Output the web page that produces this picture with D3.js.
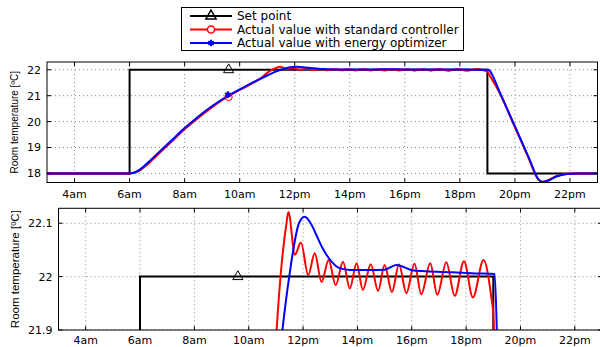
<!DOCTYPE html>
<html>
<head>
<meta charset="utf-8">
<script src="https://cdn.jsdelivr.net/npm/d3@7"></script>
<style>
    body { margin: 0; background: #fff; }
    svg { display: block; }
    text { font-family: "DejaVu Sans", sans-serif; fill: #000; }
    text.ylab { font-family: "Liberation Sans", Arial, sans-serif; }
</style>
</head>
<body>
<div id="chart"></div>
<script>
// set point (step after each hour)
var setHours = [3, 6, 19, 23];
var setTemps = [18, 22, 18, 18];

// actual value with standard controller
var stdHours = [3, 6, 6.3, 6.6, 7, 7.5, 8, 8.5, 9, 9.5, 10, 10.5, 10.8, 11, 11.17, 11.39, 11.46, 11.7, 11.92, 12.19,
    12.43, 12.68, 12.94, 13.2, 13.47, 13.72, 13.97, 14.2, 14.49, 14.76, 15, 15.27, 15.53, 15.8, 16.1, 16.35, 16.68,
    16.94, 17.27, 17.58, 17.92, 18.25, 18.64, 18.93, 19, 19.1, 19.4, 20, 20.5, 20.85, 21, 21.2, 21.5, 21.9, 22.3, 23];
var stdTemps = [18, 18, 18.07, 18.3, 18.7, 19.2, 19.7, 20.15, 20.56, 20.92, 21.22, 21.5, 21.7, 21.88, 22.0, 22.1, 22.121, 22.041, 22.064, 22.003,
    22.044, 21.99, 22.031, 21.984, 22.028, 21.978, 22.025, 21.975, 22.023, 21.973, 22.022, 21.971, 22.023, 21.969, 22.024, 21.967, 22.025,
    21.966, 22.027, 21.964, 22.029, 21.961, 22.031, 21.96, 21.93, 21.75, 21.2, 19.78, 18.58, 17.76, 17.68, 17.74, 17.89, 17.99, 18.0, 18.0];

// actual value with energy optimizer
var optHours = [3, 6, 6.3, 6.6, 7, 7.5, 8, 8.5, 9, 9.5, 10, 10.5, 11, 11.24, 11.49, 11.85, 12.06, 12.3, 12.49, 12.7,
    12.86, 13.05, 13.23, 13.5, 13.72, 14.45, 15, 15.2, 15.43, 15.6, 15.8, 16, 16.5, 17.5, 18.31, 19.05, 19.15, 19.4,
    20, 20.5, 20.85, 21, 21.2, 21.5, 21.9, 22.3, 23];
var optTemps = [18, 18, 18.1, 18.35, 18.75, 19.25, 19.75, 20.2, 20.6, 20.95, 21.24, 21.52, 21.78, 21.9, 22.0, 22.1, 22.112, 22.098, 22.078, 22.055,
    22.041, 22.028, 22.019, 22.014, 22.0125, 22.0125, 22.013, 22.017, 22.022, 22.02, 22.016, 22.012, 22.01, 22.008, 22.006, 22.005, 21.86, 21.25,
    19.82, 18.62, 17.78, 17.67, 17.72, 17.88, 17.98, 18.0, 18.0];

// one marker per series
var markerHours = [9.6, 9.6, 9.57];
var markerTemps = [22, 20.95, 21.04];

var xTickHours = [4, 6, 8, 10, 12, 14, 16, 18, 20, 22];
var xTickLabels = ["4am", "6am", "8am", "10am", "12pm", "14pm", "16pm", "18pm", "20pm", "22pm"];
var topYTicks = [18, 19, 20, 21, 22];
var bottomYTicks = [21.9, 22, 22.1];
var bottomYLabels = ["21.9", "22", "22.1"];
var legendLabels = ["Set point", "Actual value with standard controller", "Actual value with energy optimizer"];
var seriesColors = ["#000", "#f00", "#00f"];

(function () {
    var width = 600, height = 347;

    var svg = d3.select("#chart")
        .append("svg")
        .attr("width", width)
        .attr("height", height);

    var setData = setHours.map((h, i) => [h, setTemps[i]]);
    var stdData = stdHours.map((h, i) => [h, stdTemps[i]]);
    var optData = optHours.map((h, i) => [h, optTemps[i]]);

    function drawPanel(p) {
        var x = d3.scaleLinear().domain([3, 23]).range([p.left, p.right]);
        var y = d3.scaleLinear().domain(p.yDomain).range([p.bottom, p.top]);

        var g = svg.append("g");

        g.append("clipPath")
            .attr("id", p.id)
            .append("rect")
            .attr("x", p.left)
            .attr("y", p.top)
            .attr("width", p.right - p.left)
            .attr("height", p.bottom - p.top);

        // dotted grid
        g.append("g")
            .selectAll("line")
            .data(xTickHours)
            .join("line")
            .attr("x1", d => x(d)).attr("x2", d => x(d))
            .attr("y1", p.top).attr("y2", p.bottom)
            .attr("stroke", "#555")
            .attr("stroke-width", 0.7)
            .attr("stroke-dasharray", "1,3");

        g.append("g")
            .selectAll("line")
            .data(p.yTicks)
            .join("line")
            .attr("x1", p.left).attr("x2", p.right)
            .attr("y1", d => y(d)).attr("y2", d => y(d))
            .attr("stroke", "#555")
            .attr("stroke-width", 0.7)
            .attr("stroke-dasharray", "1,3");

        // series
        var lines = g.append("g").attr("clip-path", "url(#" + p.id + ")");

        lines.append("path")
            .datum(setData)
            .attr("fill", "none")
            .attr("stroke", seriesColors[0])
            .attr("stroke-width", 2)
            .attr("d", d3.line().x(d => x(d[0])).y(d => y(d[1])).curve(d3.curveStepAfter));

        var smooth = d3.line().x(d => x(d[0])).y(d => y(d[1])).curve(d3.curveMonotoneX);

        lines.append("path")
            .datum(stdData)
            .attr("fill", "none")
            .attr("stroke", seriesColors[1])
            .attr("stroke-width", 2)
            .attr("d", smooth);

        lines.append("path")
            .datum(optData)
            .attr("fill", "none")
            .attr("stroke", seriesColors[2])
            .attr("stroke-width", 2)
            .attr("d", smooth);

        // markers
        lines.selectAll(".mk")
            .data(markerHours)
            .join("path")
            .attr("class", "mk")
            .attr("transform", (d, i) => "translate(" + x(d) + "," + y(markerTemps[i]) + ")")
            .attr("d", (d, i) => markerPath(i))
            .attr("fill", "none")
            .attr("stroke", (d, i) => seriesColors[i])
            .attr("stroke-width", (d, i) => i == 2 ? 2 : 1);

        // frame
        g.append("rect")
            .attr("x", p.left)
            .attr("y", p.top)
            .attr("width", p.right - p.left)
            .attr("height", p.bottom - p.top)
            .attr("fill", "none")
            .attr("stroke", "#000")
            .attr("stroke-width", 1);

        // inward ticks on all sides
        var tl = 4;
        g.append("g")
            .selectAll("line")
            .data(xTickHours.flatMap(d => [[d, p.bottom, -tl], [d, p.top, tl]]))
            .join("line")
            .attr("x1", d => x(d[0])).attr("x2", d => x(d[0]))
            .attr("y1", d => d[1]).attr("y2", d => d[1] + d[2])
            .attr("stroke", "#000");

        g.append("g")
            .selectAll("line")
            .data(p.yTicks.flatMap(d => [[d, p.left, tl], [d, p.right, -tl]]))
            .join("line")
            .attr("y1", d => y(d[0])).attr("y2", d => y(d[0]))
            .attr("x1", d => d[1]).attr("x2", d => d[1] + d[2])
            .attr("stroke", "#000");

        // tick labels
        g.append("g")
            .selectAll("text")
            .data(xTickHours)
            .join("text")
            .attr("x", d => x(d))
            .attr("y", p.bottom + p.xLabelDy)
            .attr("text-anchor", "middle")
            .attr("font-size", p.tickSize)
            .text((d, i) => xTickLabels[i]);

        g.append("g")
            .selectAll("text")
            .data(p.yTicks)
            .join("text")
            .attr("x", p.left - 6)
            .attr("y", d => y(d))
            .attr("dy", "0.36em")
            .attr("text-anchor", "end")
            .attr("font-size", p.tickSize)
            .text((d, i) => p.yLabels[i]);

        g.append("text")
            .attr("class", "ylab")
            .attr("transform", "translate(" + p.titleX + "," + ((p.top + p.bottom) / 2) + ") rotate(-90)")
            .attr("text-anchor", "middle")
            .attr("font-size", p.titleSize)
            .text("Room temperature [ºC]");
    }

    function markerPath(i) {
        if (i == 0) return d3.symbol(d3.symbolTriangle, 45)();
        if (i == 1) return d3.symbol(d3.symbolCircle, 40)();
        return d3.symbol(d3.symbolAsterisk, 30)();
    }

    drawPanel({
        id: "clipTop", left: 47, right: 597.5, top: 62, bottom: 182.5,
        yDomain: [17.65, 22.3], yTicks: topYTicks, yLabels: topYTicks.map(String),
        xLabelDy: 15, tickSize: 11, titleX: 18, titleSize: 10
    });

    drawPanel({
        id: "clipBottom", left: 58.5, right: 602, top: 208.3, bottom: 330,
        yDomain: [21.9, 22.128], yTicks: bottomYTicks, yLabels: bottomYLabels,
        xLabelDy: 14, tickSize: 11, titleX: 19, titleSize: 11.5
    });

    // legend
    var lg = svg.append("g");
    lg.append("rect")
        .attr("x", 181.5).attr("y", 7.5)
        .attr("width", 282).attr("height", 43)
        .attr("fill", "#fff")
        .attr("stroke", "#000");

    var rows = lg.selectAll("g.row")
        .data(legendLabels)
        .join("g")
        .attr("class", "row")
        .attr("transform", (d, i) => "translate(0," + (16 + i * 13.5) + ")");

    rows.append("line")
        .attr("x1", 190).attr("x2", 232)
        .attr("stroke", (d, i) => seriesColors[i])
        .attr("stroke-width", 2);

    rows.append("path")
        .attr("transform", "translate(211,0)")
        .attr("d", (d, i) => markerPath(i))
        .attr("fill", (d, i) => i == 0 ? "none" : "#fff")
        .attr("stroke", (d, i) => seriesColors[i])
        .attr("stroke-width", (d, i) => i == 2 ? 2 : 1.5);

    rows.append("text")
        .attr("x", 237)
        .attr("dy", "0.36em")
        .attr("font-size", 12)
        .text(d => d);
})();
</script>
</body>
</html>
